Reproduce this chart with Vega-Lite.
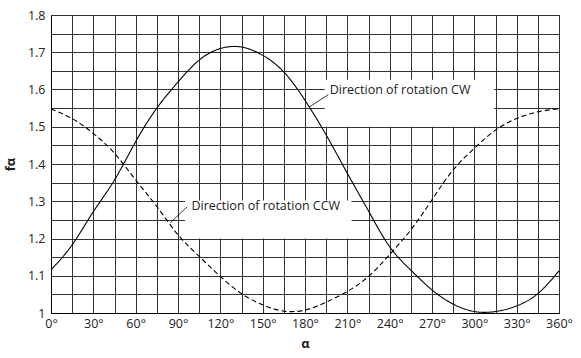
{
  "$schema": "https://vega.github.io/schema/vega-lite/v6.json",
  "width": 508,
  "height": 298,
  "autosize": "none",
  "padding": {"left": 51, "top": 15, "right": 22, "bottom": 45},
  "background": "white",
  "config": {
    "font": "Open Sans",
    "view": {"stroke": "black", "strokeWidth": 1},
    "axis": {
      "gridColor": "#333333",
      "gridOpacity": 1,
      "gridWidth": 1,
      "domainColor": "black",
      "ticks": false,
      "labelFont": "Open Sans",
      "labelFontSize": 12.5,
      "labelColor": "#222222",
      "labelOverlap": false,
      "titleFont": "Open Sans",
      "titleFontWeight": "bold",
      "titleFontSize": 13,
      "titleColor": "#222222"
    }
  },
  "datasets": {
    "curves": [
      {"alpha": 0, "f": 1.116, "dir": "CW"},
      {"alpha": 15, "f": 1.183, "dir": "CW"},
      {"alpha": 30, "f": 1.272, "dir": "CW"},
      {"alpha": 45, "f": 1.357, "dir": "CW"},
      {"alpha": 60, "f": 1.46, "dir": "CW"},
      {"alpha": 75, "f": 1.55, "dir": "CW"},
      {"alpha": 90, "f": 1.62, "dir": "CW"},
      {"alpha": 105, "f": 1.679, "dir": "CW"},
      {"alpha": 120, "f": 1.71, "dir": "CW"},
      {"alpha": 135, "f": 1.714, "dir": "CW"},
      {"alpha": 150, "f": 1.692, "dir": "CW"},
      {"alpha": 165, "f": 1.647, "dir": "CW"},
      {"alpha": 180, "f": 1.571, "dir": "CW"},
      {"alpha": 195, "f": 1.478, "dir": "CW"},
      {"alpha": 210, "f": 1.375, "dir": "CW"},
      {"alpha": 225, "f": 1.274, "dir": "CW"},
      {"alpha": 240, "f": 1.178, "dir": "CW"},
      {"alpha": 255, "f": 1.115, "dir": "CW"},
      {"alpha": 270, "f": 1.062, "dir": "CW"},
      {"alpha": 285, "f": 1.024, "dir": "CW"},
      {"alpha": 300, "f": 1.004, "dir": "CW"},
      {"alpha": 315, "f": 1.004, "dir": "CW"},
      {"alpha": 330, "f": 1.019, "dir": "CW"},
      {"alpha": 345, "f": 1.052, "dir": "CW"},
      {"alpha": 360, "f": 1.113, "dir": "CW"},
      {"alpha": 0, "f": 1.548, "dir": "CCW"},
      {"alpha": 15, "f": 1.522, "dir": "CCW"},
      {"alpha": 30, "f": 1.482, "dir": "CCW"},
      {"alpha": 45, "f": 1.429, "dir": "CCW"},
      {"alpha": 60, "f": 1.357, "dir": "CCW"},
      {"alpha": 75, "f": 1.286, "dir": "CCW"},
      {"alpha": 90, "f": 1.21, "dir": "CCW"},
      {"alpha": 105, "f": 1.152, "dir": "CCW"},
      {"alpha": 120, "f": 1.098, "dir": "CCW"},
      {"alpha": 135, "f": 1.052, "dir": "CCW"},
      {"alpha": 150, "f": 1.022, "dir": "CCW"},
      {"alpha": 165, "f": 1.005, "dir": "CCW"},
      {"alpha": 180, "f": 1.008, "dir": "CCW"},
      {"alpha": 195, "f": 1.029, "dir": "CCW"},
      {"alpha": 210, "f": 1.058, "dir": "CCW"},
      {"alpha": 225, "f": 1.098, "dir": "CCW"},
      {"alpha": 240, "f": 1.157, "dir": "CCW"},
      {"alpha": 255, "f": 1.223, "dir": "CCW"},
      {"alpha": 270, "f": 1.304, "dir": "CCW"},
      {"alpha": 285, "f": 1.384, "dir": "CCW"},
      {"alpha": 300, "f": 1.442, "dir": "CCW"},
      {"alpha": 315, "f": 1.491, "dir": "CCW"},
      {"alpha": 330, "f": 1.522, "dir": "CCW"},
      {"alpha": 345, "f": 1.54, "dir": "CCW"},
      {"alpha": 360, "f": 1.548, "dir": "CCW"}
    ],
    "boxes": [
      {"a1": 194, "a2": 314, "f1": 1.5, "f2": 1.626},
      {"a1": 95, "a2": 213, "f1": 1.2, "f2": 1.302}
    ],
    "leaders": [
      {"a1": 196.5, "f1": 1.586, "a2": 183, "f2": 1.553},
      {"a1": 96.5, "f1": 1.285, "a2": 84.5, "f2": 1.242}
    ],
    "labels": [
      {"a": 197.5, "f": 1.598, "text": "Direction of rotation CW"},
      {"a": 99.5, "f": 1.286, "text": "Direction of rotation CCW"}
    ]
  },
  "layer": [
    {
      "data": {"name": "boxes"},
      "mark": {"type": "rect", "fill": "white", "stroke": null},
      "encoding": {
        "x": {
          "field": "a1", "type": "quantitative",
          "scale": {"domain": [0, 360], "nice": false},
          "axis": {
            "values": [0,15,30,45,60,75,90,105,120,135,150,165,180,195,210,225,240,255,270,285,300,315,330,345,360],
            "tickCount": 30,
            "labelExpr": "datum.value % 30 == 0 ? datum.value + '°' : ''",
            "labelPadding": 4,
            "labelFlush": false,
            "title": "α",
            "titlePadding": 8
          }
        },
        "x2": {"field": "a2"},
        "y": {
          "field": "f1", "type": "quantitative",
          "scale": {"domain": [1, 1.8], "nice": false, "zero": false},
          "axis": {
            "values": [1,1.05,1.1,1.15,1.2,1.25,1.3,1.35,1.4,1.45,1.5,1.55,1.6,1.65,1.7,1.75,1.8],
            "tickCount": 20,
            "labelExpr": "round(datum.value*20) % 2 == 0 ? format(datum.value, '.2~f') : ''",
            "labelPadding": 6,
            "labelFlush": false,
            "title": "fα",
            "titlePadding": 10
          }
        },
        "y2": {"field": "f2"}
      }
    },
    {
      "data": {"name": "curves"},
      "mark": {"type": "line", "interpolate": "natural", "strokeWidth": 1.1, "color": "black"},
      "encoding": {
        "x": {"field": "alpha", "type": "quantitative"},
        "y": {"field": "f", "type": "quantitative"},
        "detail": {"field": "dir"},
        "strokeDash": {
          "field": "dir", "type": "nominal",
          "scale": {"domain": ["CW", "CCW"], "range": [[1, 0], [5, 3]]},
          "legend": null
        }
      }
    },
    {
      "data": {"name": "leaders"},
      "mark": {"type": "rule", "color": "black", "strokeWidth": 0.8},
      "encoding": {
        "x": {"field": "a1", "type": "quantitative"},
        "y": {"field": "f1", "type": "quantitative"},
        "x2": {"field": "a2"},
        "y2": {"field": "f2"}
      }
    },
    {
      "data": {"name": "labels"},
      "mark": {"type": "text", "align": "left", "baseline": "middle", "fontSize": 12.5, "color": "#222222", "font": "Open Sans"},
      "encoding": {
        "x": {"field": "a", "type": "quantitative"},
        "y": {"field": "f", "type": "quantitative"},
        "text": {"field": "text"}
      }
    }
  ]
}
